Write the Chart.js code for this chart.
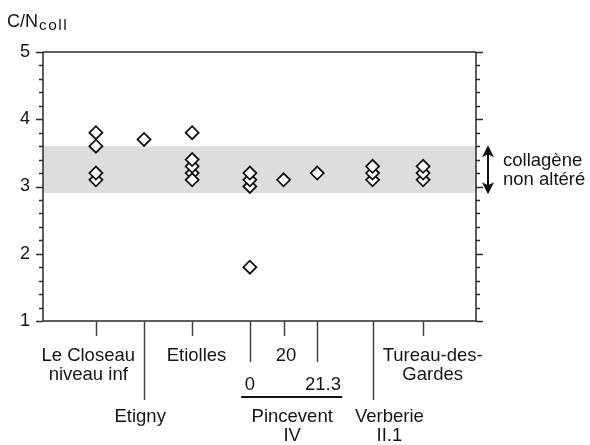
<!DOCTYPE html>
<html>
<head>
<meta charset="utf-8">
<script src="https://cdn.jsdelivr.net/npm/chart.js@4/dist/chart.umd.min.js"></script>
<style>
  html, body { margin: 0; padding: 0; background: #fff; }
  #wrap { width: 590px; height: 445px; }
</style>
</head>
<body>
<div id="wrap"><canvas id="c" width="590" height="445"></canvas></div>
<script>
// Sites, in order along the horizontal axis
const sites = ['Le Closeau niveau inf', 'Etigny', 'Etiolles', 'Pincevent IV 0', 'Pincevent IV 20',
               'Pincevent IV 21.3', 'Verberie II.1', 'Tureau-des-Gardes'];
// Where each site sits on the (unitless) horizontal axis, 0..9
const siteAxisValue = [1.1, 2.1, 3.1, 4.3, 5.0, 5.7, 6.85, 7.9];
// C/N ratios of the collagen samples for each site
const cnValues = [
  [3.1, 3.2, 3.6, 3.8],
  [3.7],
  [3.2, 3.3, 3.4, 3.1, 3.8],
  [1.8, 3.0, 3.1, 3.2],
  [3.1],
  [3.2],
  [3.1, 3.2, 3.3],
  [3.1, 3.2, 3.3]
];
// Range of unaltered collagen
const unalteredRange = [2.9, 3.6];
// Y axis
const yMin = 1, yMax = 5, yMinorStep = 0.2;

// Site tick marks under the axis: tick kind decides how far down it reaches
const siteTickKind = ['short', 'long', 'short', 'mid', 'short', 'mid', 'long', 'short'];
// Labels under the axis: text lines, centre on the axis scale, and text row
const axisLabels = [
  { lines: ['Le Closeau', 'niveau inf'], at: 0.94, row: 0 },
  { lines: ['Etigny'], at: 2.02, row: 2 },
  { lines: ['Etiolles'], at: 3.19, row: 0 },
  { lines: ['20'], at: 5.05, row: 0 },
  { lines: ['0'], at: 4.3, row: 1 },
  { lines: ['21.3'], at: 5.82, row: 1 },
  { lines: ['Pincevent', 'IV'], at: 5.18, row: 2 },
  { lines: ['Verberie', 'II.1'], at: 7.2, row: 2 },
  { lines: ['Tureau-des-', 'Gardes'], at: 8.1, row: 0 }
];

const points = [];
siteAxisValue.forEach((x, i) => cnValues[i].forEach(v => points.push({ x: x, y: v })));

const FONT = "'Liberation Sans', Arial, Helvetica, sans-serif";
const INK = '#151515';
const AXIS = '#2a2a2a';

const bandPlugin = {
  id: 'band',
  beforeDatasetsDraw(chart) {
    const { ctx, chartArea: a, scales: { y } } = chart;
    const top = y.getPixelForValue(unalteredRange[1]);
    const bot = y.getPixelForValue(unalteredRange[0]);
    ctx.save();
    ctx.fillStyle = '#dcdedd';
    ctx.fillRect(a.left, top, a.right - a.left, bot - top);
    ctx.restore();
  }
};

const framePlugin = {
  id: 'frame',
  afterDraw(chart) {
    const { ctx, chartArea: a, scales: { x, y } } = chart;
    ctx.save();
    ctx.strokeStyle = AXIS;
    ctx.lineWidth = 1.5;
    ctx.lineCap = 'butt';
    // box
    ctx.beginPath();
    ctx.moveTo(a.left, a.top); ctx.lineTo(a.right, a.top);
    ctx.moveTo(a.left, a.top); ctx.lineTo(a.left, a.bottom);
    ctx.moveTo(a.right, a.top); ctx.lineTo(a.right, a.bottom);
    ctx.moveTo(a.left, a.bottom); ctx.lineTo(a.right, a.bottom);
    ctx.stroke();
    // y ticks, outward on both sides
    ctx.lineWidth = 1.3;
    ctx.beginPath();
    const n = Math.round((yMax - yMin) / yMinorStep);
    for (let i = 0; i <= n; i++) {
      const v = yMin + i * yMinorStep;
      const major = Math.abs(v - Math.round(v)) < 1e-6;
      const len = major ? 7 : 4;
      const py = Math.round(y.getPixelForValue(v)) + 0.5;
      ctx.moveTo(a.left - len, py); ctx.lineTo(a.left, py);
      ctx.moveTo(a.right, py); ctx.lineTo(a.right + len, py);
    }
    ctx.stroke();

    // site ticks hanging below the axis
    const tickDepth = { short: 15, mid: 41, long: 79 };
    ctx.strokeStyle = '#444';
    ctx.lineWidth = 1.5;
    ctx.beginPath();
    siteAxisValue.forEach((v, i) => {
      const px = Math.round(x.getPixelForValue(v)) + 0.5;
      ctx.moveTo(px, a.bottom);
      ctx.lineTo(px, a.bottom + tickDepth[siteTickKind[i]]);
    });
    ctx.stroke();

    // labels
    const rowY = [a.bottom + 35, a.bottom + 64, a.bottom + 96];
    ctx.fillStyle = INK;
    ctx.font = '18.5px ' + FONT;
    ctx.textAlign = 'center';
    ctx.textBaseline = 'middle';
    axisLabels.forEach(l => {
      const px = x.getPixelForValue(l.at);
      l.lines.forEach((t, k) => ctx.fillText(t, px, rowY[l.row] + k * 18.5));
    });

    // bar grouping the Pincevent levels
    ctx.strokeStyle = '#111';
    ctx.lineWidth = 2;
    ctx.beginPath();
    ctx.moveTo(x.getPixelForValue(4.12), a.bottom + 76);
    ctx.lineTo(x.getPixelForValue(6.22), a.bottom + 76);
    ctx.stroke();

    // double arrow for the unaltered range
    const ax = a.right + 12;
    const yt = y.getPixelForValue(unalteredRange[1]) - 1;
    const yb = y.getPixelForValue(unalteredRange[0]) + 1;
    ctx.fillStyle = '#111';
    ctx.strokeStyle = '#111';
    ctx.lineWidth = 2;
    ctx.beginPath();
    ctx.moveTo(ax, yt + 6); ctx.lineTo(ax, yb - 6);
    ctx.stroke();
    ctx.beginPath();
    ctx.moveTo(ax, yt); ctx.lineTo(ax - 6, yt + 12); ctx.lineTo(ax, yt + 9); ctx.lineTo(ax + 6, yt + 12); ctx.closePath();
    ctx.moveTo(ax, yb); ctx.lineTo(ax - 6, yb - 12); ctx.lineTo(ax, yb - 9); ctx.lineTo(ax + 6, yb - 12); ctx.closePath();
    ctx.fill();

    ctx.fillStyle = INK;
    ctx.textAlign = 'left';
    ctx.font = '18.5px ' + FONT;
    const mid = (yt + yb) / 2;
    ctx.fillText('collagène', a.right + 27, mid - 9);
    ctx.fillText('non altéré', a.right + 27, mid + 10);

    // axis title C/N with subscript
    ctx.textBaseline = 'alphabetic';
    ctx.font = '18px ' + FONT;
    ctx.fillText('C/N', 7, 27);
    const w = ctx.measureText('C/N').width;
    ctx.font = '15.5px ' + FONT;
    let sx = 7 + w + 1;
    for (const ch of 'coll') {
      ctx.fillText(ch, sx, 30);
      sx += ctx.measureText(ch).width + 1.5;
    }
    ctx.restore();
  }
};

new Chart(document.getElementById('c'), {
  type: 'scatter',
  data: {
    datasets: [{
      data: points,
      pointStyle: 'rectRot',
      pointRadius: 6.5,
      pointBorderWidth: 1.8,
      pointBackgroundColor: '#fff',
      pointBorderColor: '#111'
    }]
  },
  options: {
    responsive: false,
    animation: false,
    layout: { padding: { left: 0, top: 52, right: 114, bottom: 124 } },
    plugins: { legend: { display: false }, tooltip: { enabled: false } },
    scales: {
      x: { type: 'linear', min: 0, max: 9, display: false },
      y: {
        type: 'linear', min: yMin, max: yMax,
        afterFit(s) { s.width = 43; },
        grid: { display: false, drawTicks: false },
        border: { display: false },
        ticks: { stepSize: 1, padding: 13, color: INK, font: { family: FONT, size: 18 } }
      }
    }
  },
  plugins: [bandPlugin, framePlugin]
});
</script>
</body>
</html>
